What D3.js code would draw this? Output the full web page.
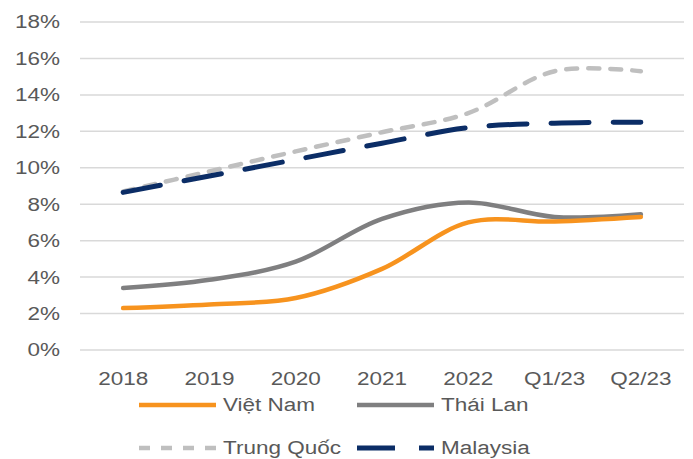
<!DOCTYPE html>
<html>
<head>
<meta charset="utf-8">
<script src="https://cdn.jsdelivr.net/npm/d3@7"></script>
<style>
  body { margin: 0; background: #fff; }
  text { font-family: "Liberation Sans", Arial, sans-serif; fill: #595959; }
</style>
</head>
<body>
<div id="chart"></div>
<script>
    // categories and values (percent)
    var categories = ["2018", "2019", "2020", "2021", "2022", "Q1/23", "Q2/23"],
        vietNam    = [2.3, 2.5, 2.85, 4.45, 7.0, 7.05, 7.3],
        thaiLan    = [3.4, 3.85, 4.85, 7.2, 8.1, 7.3, 7.45],
        trungQuoc  = [8.7, 9.8, 10.9, 11.95, 13.0, 15.3, 15.3],
        malaysia   = [8.65, 9.55, 10.45, 11.35, 12.2, 12.45, 12.5],
        yTicks     = [0, 2, 4, 6, 8, 10, 12, 14, 16, 18];

    var w = 693,
        h = 459,
        stretch = 1.25; // text in the picture is wider than normal

    var series = [
        { name: "Trung Quốc", values: trungQuoc, color: "#bfbfbf", width: 4.5, dash: "11,11" },
        { name: "Malaysia",   values: malaysia,  color: "#0b2d66", width: 5,   dash: "38,24" },
        { name: "Thái Lan",   values: thaiLan,   color: "#7f7f80", width: 4.5, dash: null },
        { name: "Việt Nam",   values: vietNam,   color: "#f7931e", width: 4.5, dash: null }
    ];

    var svg = d3.select("#chart")
        .append("svg")
        .attr("width", w)
        .attr("height", h);

    var x = d3.scalePoint()
        .domain(categories)
        .range([80, 684])
        .padding(0.5);

    var y = d3.scaleLinear()
        .domain([0, 18])
        .range([350, 22]);

    // gridlines
    svg.selectAll("line.grid")
        .data(yTicks)
        .enter().append("line")
        .attr("class", "grid")
        .attr("x1", 80)
        .attr("x2", 684)
        .attr("y1", function(d) { return y(d); })
        .attr("y2", function(d) { return y(d); })
        .attr("stroke", "#d9d9d9")
        .attr("stroke-width", 1.5);

    // y labels
    svg.selectAll("text.ylab")
        .data(yTicks)
        .enter().append("text")
        .attr("class", "ylab")
        .attr("transform", function(d) { return "translate(60," + y(d) + ") scale(" + stretch + ",1)"; })
        .attr("dy", "0.36em")
        .attr("text-anchor", "end")
        .style("font-size", "18px")
        .text(function(d) { return d + "%"; });

    // x labels
    svg.selectAll("text.xlab")
        .data(categories)
        .enter().append("text")
        .attr("class", "xlab")
        .attr("transform", function(d) { return "translate(" + x(d) + ",385) scale(" + stretch + ",1)"; })
        .attr("text-anchor", "middle")
        .style("font-size", "18px")
        .text(function(d) { return d; });

    var line = d3.line()
        .x(function(d, i) { return x(categories[i]); })
        .y(function(d) { return y(d); })
        .curve(d3.curveCatmullRom.alpha(0.5));

    svg.selectAll("path.series")
        .data(series)
        .enter().append("path")
        .attr("class", "series")
        .attr("d", function(s) { return line(s.values); })
        .attr("fill", "none")
        .attr("stroke", function(s) { return s.color; })
        .attr("stroke-width", function(s) { return s.width; })
        .attr("stroke-linecap", "round")
        .attr("stroke-dasharray", function(s) { return s.dash; });

    // legend, two rows of two
    var legendPos = {
        "Việt Nam":   [139, 405],
        "Thái Lan":   [357, 405],
        "Trung Quốc": [139, 448],
        "Malaysia":   [357, 448]
    };

    var legend = svg.selectAll("g.legend")
        .data(series)
        .enter().append("g")
        .attr("class", "legend")
        .attr("transform", function(s) { return "translate(" + legendPos[s.name] + ")"; });

    legend.append("line")
        .attr("x1", 0)
        .attr("x2", 77)
        .attr("stroke", function(s) { return s.color; })
        .attr("stroke-width", function(s) { return s.width; })
        .attr("stroke-dasharray", function(s) { return s.dash; });

    legend.append("text")
        .attr("transform", "translate(84,0) scale(" + stretch + ",1)")
        .attr("dy", "0.36em")
        .style("font-size", "18px")
        .text(function(s) { return s.name; });
</script>
</body>
</html>
